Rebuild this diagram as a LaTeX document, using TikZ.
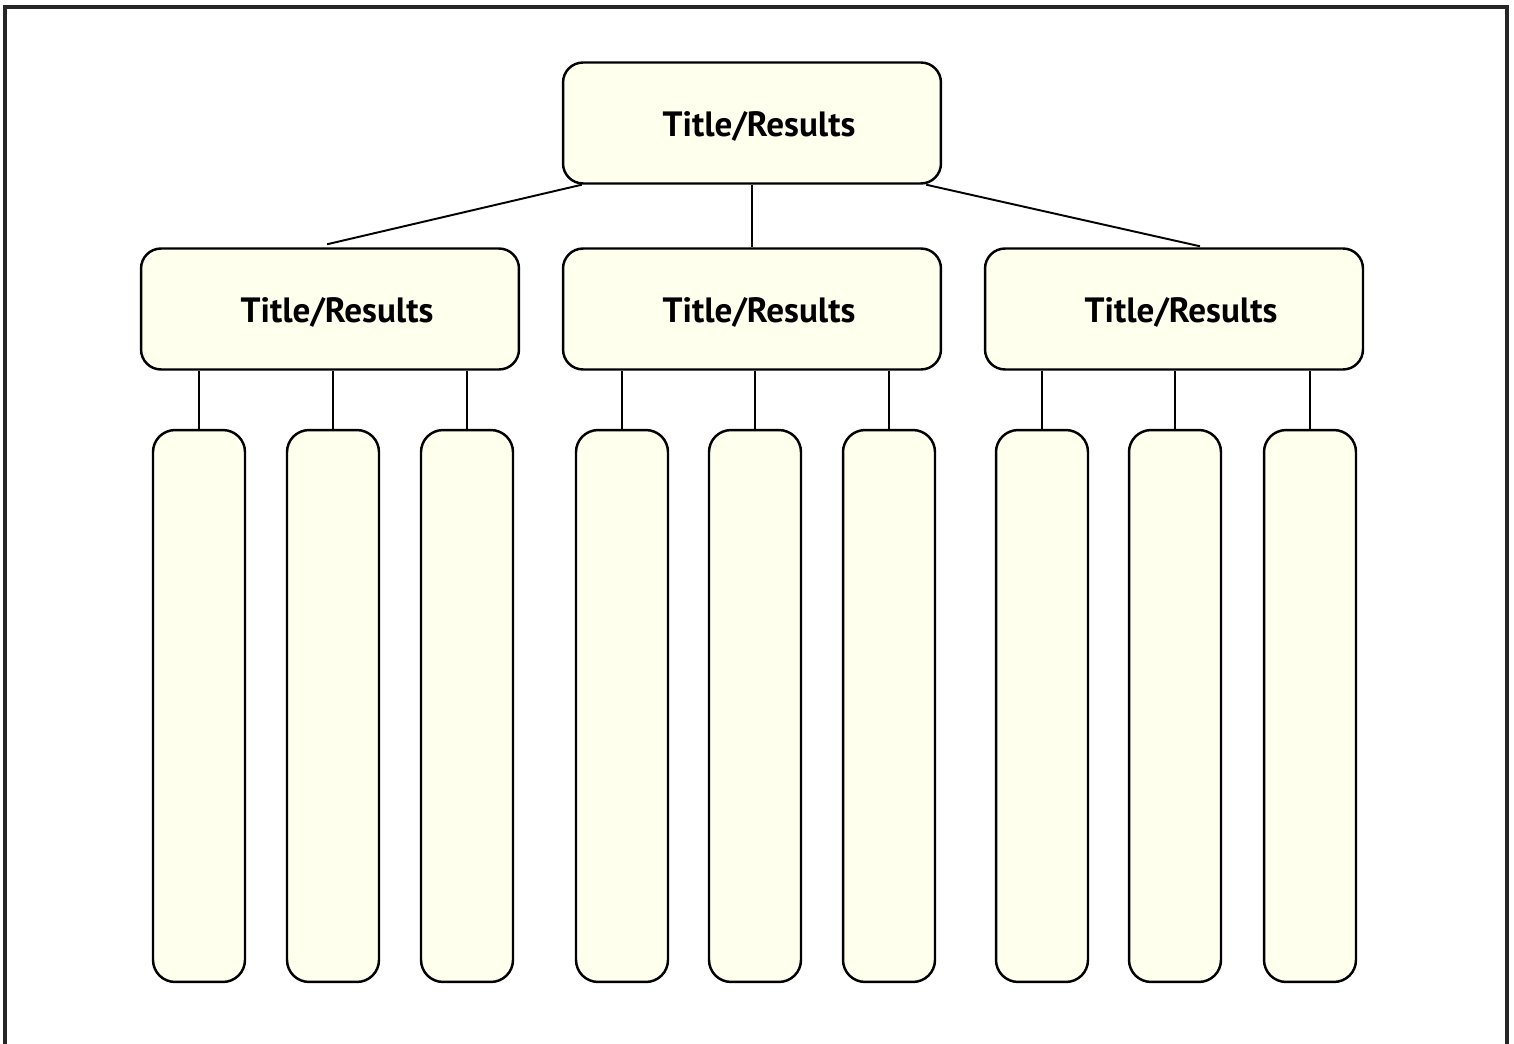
\documentclass[tikz,border=0pt]{standalone}
\usepackage{fontspec}
\setmainfont{PT Sans}
\usetikzlibrary{positioning}
\definecolor{boxfill}{HTML}{FFFFEE}

\begin{document}
\begin{tikzpicture}[
  x=0.02cm, y=-0.02cm,
  every node/.style={font=\bfseries\fontsize{20}{24}\selectfont},
  titlebox/.style={draw, line width=1.4pt, fill=boxfill, rounded corners=0.4cm, minimum width=7.56cm, minimum height=2.42cm, inner sep=0pt, text height=0.6cm, text depth=0.04cm},
  bar/.style={draw, line width=1.4pt, fill=boxfill, rounded corners=0.44cm, minimum width=1.84cm, minimum height=11.04cm, inner sep=0pt},
  link/.style={line width=1.1pt}
]
\useasboundingbox (0,0) rectangle (1514,1044);
% outer frame
\draw[line width=2pt, black!85] (5,1050) -- (5,7) -- (1507,7) -- (1507,1050);

% Title boxes
\node[titlebox] (top) at (752,123) {\hspace*{0.28cm}Title/Results};
\node[titlebox] (midL) at (330,309) {\hspace*{0.28cm}Title/Results};
\node[titlebox] (midC) at (752,309) {\hspace*{0.28cm}Title/Results};
\node[titlebox] (midR) at (1174,309) {\hspace*{0.28cm}Title/Results};

% Result bars
\foreach \x/\n/\p in {199/L1/midL, 333/L2/midL, 467/L3/midL,
                      622/C1/midC, 755/C2/midC, 889/C3/midC,
                      1042/R1/midR, 1175/R2/midR, 1310/R3/midR} {
  \node[bar] (bar\n) at (\x,706) {};
  \draw[link] (bar\n.north) -- (bar\n.north |- \p.south);
}

% Links from top
\draw[link] ([xshift=0.4cm]top.south west) -- ([xshift=-0.06cm,yshift=0.06cm]midL.north);
\draw[link] (top.south) -- (midC.north);
\draw[link] ([xshift=-0.32cm]top.south east) -- ([xshift=0.52cm,yshift=0.02cm]midR.north);
\end{tikzpicture}
\end{document}
